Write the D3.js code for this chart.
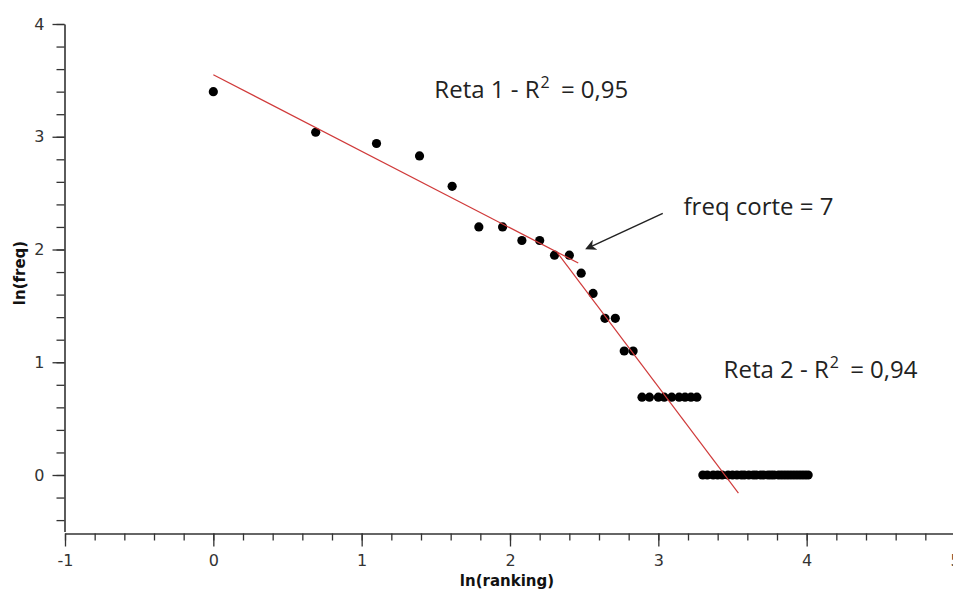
<!DOCTYPE html>
<html>
<head>
<meta charset="utf-8">
<script src="https://cdn.jsdelivr.net/npm/d3@7"></script>
<style>
  html, body { margin: 0; padding: 0; background: #fff; }
  svg { display: block; }
  .axis path, .axis line { stroke: #333; }
  .axis text { fill: #333; font-family: "DejaVu Sans", Verdana, sans-serif; font-size: 16px; }
  .title { font-family: "DejaVu Sans", Verdana, sans-serif; font-weight: bold; font-size: 15px; fill: #111; }
  .note { font-family: "Open Sans", "Noto Sans", sans-serif; font-size: 24px; fill: #222; }
</style>
</head>
<body>
<div id="chart"></div>
<script>
// ln(ranking) of every word
var lnRanking = [0, 0.69, 1.10, 1.39, 1.61, 1.79, 1.95, 2.08, 2.20, 2.30,
  2.40, 2.48, 2.56, 2.64, 2.71, 2.77, 2.83, 2.89, 2.94, 3.00,
  3.04, 3.09, 3.14, 3.18, 3.22, 3.26, 3.30, 3.33, 3.37, 3.40,
  3.43, 3.47, 3.50, 3.53, 3.56, 3.58, 3.61, 3.64, 3.66, 3.69,
  3.71, 3.74, 3.76, 3.78, 3.81, 3.83, 3.85, 3.87, 3.89, 3.91,
  3.93, 3.95, 3.97, 3.99, 4.01];
// ln(freq)
var lnFreq = [3.40, 3.04, 2.94, 2.83, 2.56, 2.20, 2.20, 2.08, 2.08, 1.95,
  1.95, 1.79, 1.61, 1.39, 1.39, 1.10, 1.10, 0.69, 0.69, 0.69,
  0.69, 0.69, 0.69, 0.69, 0.69, 0.69, 0, 0, 0, 0,
  0, 0, 0, 0, 0, 0, 0, 0, 0, 0,
  0, 0, 0, 0, 0, 0, 0, 0, 0, 0,
  0, 0, 0, 0, 0];

// fitted lines (end points)
var reta1X = [0, 2.46], reta1Y = [3.55, 1.88];
var reta2X = [2.32, 3.54], reta2Y = [1.97, -0.16];

// arrow pointing at the cut
var arrowX = [3.03, 2.52], arrowY = [2.32, 2.01];

var xTicks = [-1, 0, 1, 2, 3, 4, 5];
var yTicks = [0, 1, 2, 3, 4];

var width = 953, height = 591;

var x = d3.scaleLinear().domain([-1, 5]).range([65, 955]);
var y = d3.scaleLinear().domain([0, 4]).range([475, 24]);
var yBottom = -0.5;

var svg = d3.select("#chart").append("svg")
    .attr("width", width)
    .attr("height", height);

var defs = svg.append("defs");
defs.append("marker")
    .attr("id", "head")
    .attr("viewBox", "0 0 10 10")
    .attr("refX", 8).attr("refY", 5)
    .attr("markerWidth", 11).attr("markerHeight", 11)
    .attr("markerUnits", "userSpaceOnUse")
    .attr("orient", "auto")
  .append("path")
    .attr("d", "M0,0 L10,5 L0,10 L3,5 Z")
    .attr("fill", "#222");

var minor = function(a, b) { return d3.range(a, b + 1e-9, 0.2).map(function(v){ return +v.toFixed(1); }); };
var fmt = function(d) { return String(d); };

// x axis
var xPos = 533.5;
svg.append("g")
    .attr("class", "axis")
    .attr("transform", "translate(0," + xPos + ")")
    .call(d3.axisBottom(x).tickValues(minor(-1, 5)).tickSize(7).tickSizeOuter(0).tickFormat(""))
    .call(function(g){ g.select(".domain").attr("stroke-width", 1.6); g.selectAll(".tick line").attr("stroke-width", 1.3); });
svg.append("g")
    .attr("class", "axis")
    .attr("transform", "translate(0," + xPos + ")")
    .call(d3.axisBottom(x).tickValues(xTicks).tickSize(13).tickPadding(8).tickFormat(fmt))
    .call(function(g){ g.select(".domain").remove(); g.selectAll(".tick line").attr("stroke-width", 1.3); });

// y axis
var yAxisRange = d3.scaleLinear().domain([yBottom, 4]).range([y(yBottom), y(4)]);
svg.append("g")
    .attr("class", "axis")
    .attr("transform", "translate(64.5,0)")
    .call(d3.axisLeft(yAxisRange).tickValues(minor(-0.4, 4)).tickSize(8).tickSizeOuter(0).tickFormat(""))
    .call(function(g){ g.select(".domain").attr("stroke-width", 1.6); g.selectAll(".tick line").attr("stroke-width", 1.3); });
svg.append("g")
    .attr("class", "axis")
    .attr("transform", "translate(64.5,0)")
    .call(d3.axisLeft(y).tickValues(yTicks).tickSize(12).tickPadding(8).tickFormat(fmt))
    .call(function(g){ g.select(".domain").remove(); g.selectAll(".tick line").attr("stroke-width", 1.3); });

// axis titles
svg.append("text")
    .attr("class", "title")
    .attr("x", 507).attr("y", 586)
    .attr("text-anchor", "middle")
    .text("ln(ranking)");
svg.append("text")
    .attr("class", "title")
    .attr("transform", "translate(25,273) rotate(-90)")
    .attr("text-anchor", "middle")
    .text("ln(freq)");

// points
svg.append("g")
    .selectAll("circle")
    .data(lnRanking)
  .enter().append("circle")
    .attr("cx", function(d){ return x(d); })
    .attr("cy", function(d, i){ return y(lnFreq[i]); })
    .attr("r", 4.6)
    .attr("fill", "#000");

// fitted lines
var line = d3.line().x(function(d){ return x(d[0]); }).y(function(d){ return y(d[1]); });
[[reta1X, reta1Y], [reta2X, reta2Y]].forEach(function(r){
  svg.append("path")
      .attr("d", line(d3.zip(r[0], r[1])))
      .attr("fill", "none")
      .attr("stroke", "#d03a3a")
      .attr("stroke-width", 1.2);
});

// arrow
svg.append("path")
    .attr("d", line(d3.zip(arrowX, arrowY)))
    .attr("stroke", "#222")
    .attr("stroke-width", 1.5)
    .attr("marker-end", "url(#head)");

// notes
function note(px, py, parts) {
  var t = svg.append("text").attr("class", "note").attr("x", x(px)).attr("y", y(py));
  parts.forEach(function(p){
    var s = t.append("tspan").text(p.t);
    if (p.sup) s.attr("font-size", 16).attr("dy", -10).attr("dx", 1);
    if (p.down) s.attr("dy", 10).attr("dx", 5);
  });
}
note(1.49, 3.34, [{t: "Reta 1 - R"}, {t: "2", sup: true}, {t: " = 0,95", down: true}]);
note(3.17, 2.31, [{t: "freq corte = 7"}]);
note(3.44, 0.86, [{t: "Reta 2 - R"}, {t: "2", sup: true}, {t: " = 0,94", down: true}]);
</script>
</body>
</html>
